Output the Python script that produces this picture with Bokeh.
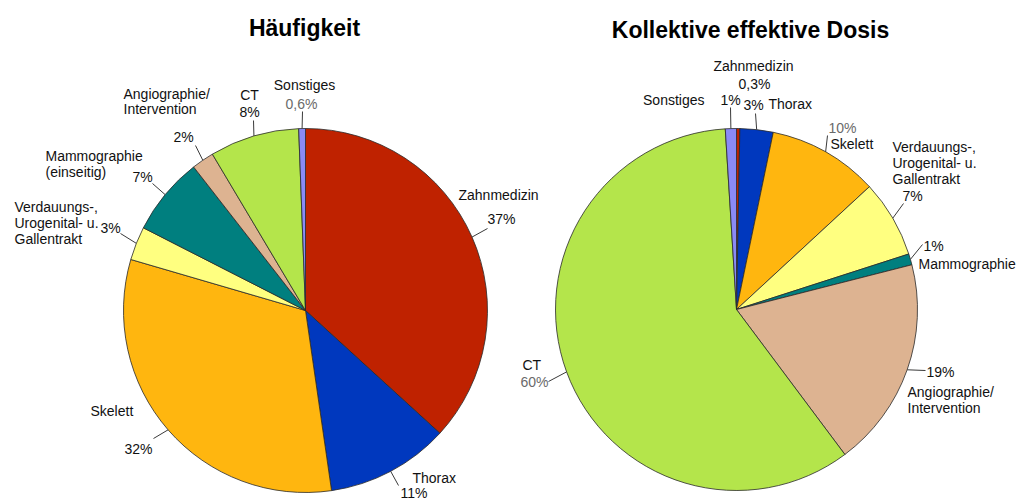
import math
from bokeh.plotting import figure
from bokeh.models import Range1d, ColumnDataSource
from bokeh.core.properties import value
from bokeh.embed import file_html
from bokeh.resources import INLINE

# ---------------- data ----------------
categories = ["Zahnmedizin", "Thorax", "Skelett",
              "Verdauungs-, Urogenital- u. Gallentrakt", "Mammographie",
              "Angiographie/Intervention", "CT", "Sonstiges"]
freq_values = [37, 11, 32, 3, 7, 2, 8, 0.6]
freq_pct_text = ["37%", "11%", "32%", "3%", "7%", "2%", "8%", "0,6%"]
dose_values = [0.3, 3, 10, 7, 1, 19, 60, 1]
dose_pct_text = ["0,3%", "3%", "10%", "7%", "1%", "19%", "60%", "1%"]
slice_colors = ["#BF2200", "#0038BE", "#FFB60F", "#FFFF80",
                "#007F7F", "#DDB391", "#B4E54B", "#8A8AF6"]
titles = ["Häufigkeit", "Kollektive effektive Dosis"]

# ---------------- layout ----------------
W, H = 1018, 500
FONT = value("Liberation Sans")


def D(sx, sy):
    """page pixel -> data coordinate"""
    return sx, H - sy


p = figure(width=W, height=H, output_backend="svg", toolbar_location=None,
           x_range=Range1d(0, W), y_range=Range1d(0, H), min_border=0)
p.axis.visible = False
p.grid.visible = False
p.outline_line_color = None
p.background_fill_color = "white"


def draw_pie(values, center, r):
    cx, cy = D(*center)
    total = float(sum(values))
    starts, ends, mids = [], [], []
    cum = 0.0
    for v in values:
        a0 = math.pi / 2 - 2 * math.pi * cum / total
        cum += v
        a1 = math.pi / 2 - 2 * math.pi * cum / total
        starts.append(a1)
        ends.append(a0)
        mids.append((a0 + a1) / 2)
    src = ColumnDataSource(dict(start=starts, end=ends, color=slice_colors))
    p.wedge(x=cx, y=cy, radius=r, start_angle="start", end_angle="end",
            direction="anticlock", fill_color="color", line_color="#2a2a2a",
            line_width=0.8, source=src)
    return cx, cy, mids


def draw_labels(center_data, r, mids, layout):
    cx, cy = center_data
    xs, ys, txt, align, col = [], [], [], [], []
    x0, y0, x1, y1 = [], [], [], []
    for i, item in enumerate(layout):
        for (t, sx, sy, al, c) in item["texts"]:
            dx, dy = D(sx, sy)
            xs.append(dx); ys.append(dy); txt.append(t); align.append(al); col.append(c)
        if item.get("leader"):
            ex, ey = D(*item["leader"])
            a = mids[i] + item.get("shift", 0.0)
            x0.append(cx + r * math.cos(a)); y0.append(cy + r * math.sin(a))
            x1.append(ex); y1.append(ey)
    p.segment(x0=x0, y0=y0, x1=x1, y1=y1, line_color="#3a3a3a", line_width=1)
    src = ColumnDataSource(dict(x=xs, y=ys, text=txt, align=align, color=col))
    p.text(x="x", y="y", text="text", text_align="align", text_baseline="middle",
           text_color="color", text_font=FONT, text_font_size="14px", source=src)


BLK = "#111111"
GRY = "#6a6a6a"

# ----- left pie -----
L_CENTER, L_R = (305, 310), 182
lc = draw_pie(freq_values, L_CENTER, L_R)
left_layout = [
    dict(texts=[("Zahnmedizin", 458, 194, "left", BLK), (freq_pct_text[0], 487, 218, "left", BLK)], leader=(487, 228)),
    dict(texts=[("Thorax", 412, 477, "left", BLK), (freq_pct_text[1], 400, 492, "left", BLK)], leader=(398, 485)),
    dict(texts=[("Skelett", 90, 410, "left", BLK), (freq_pct_text[2], 124, 448, "left", BLK)], leader=(153, 438)),
    dict(texts=[("Verdauungs-,", 14, 206, "left", BLK), ("Urogenital- u.", 14, 222, "left", BLK),
                ("Gallentrakt", 14, 238, "left", BLK), (freq_pct_text[3], 100, 227, "left", BLK)], leader=(120, 233)),
    dict(texts=[("Mammographie", 45, 155, "left", BLK), ("(einseitig)", 45, 171, "left", BLK),
                (freq_pct_text[4], 132, 176, "left", BLK)], leader=(152, 183)),
    dict(texts=[("Angiographie/", 123, 93, "left", BLK), ("Intervention", 123, 108, "left", BLK),
                (freq_pct_text[5], 173, 136, "left", BLK)], leader=(195, 145)),
    dict(texts=[("CT", 249, 94, "center", BLK), (freq_pct_text[6], 249, 111, "center", BLK)], leader=(253, 120)),
    dict(texts=[("Sonstiges", 304, 84, "center", BLK), (freq_pct_text[7], 301, 103, "center", GRY)], leader=(302, 111)),
]
draw_labels(lc[:2], L_R, lc[2], left_layout)

# ----- right pie -----
R_CENTER, R_R = (736, 309), 181
rc = draw_pie(dose_values, R_CENTER, R_R)
right_layout = [
    dict(texts=[("Zahnmedizin", 753, 65, "center", BLK), (dose_pct_text[0], 754, 83, "center", BLK)]),
    dict(texts=[(dose_pct_text[1], 743, 104, "left", BLK), ("Thorax", 768, 103, "left", BLK)], leader=(755, 113)),
    dict(texts=[(dose_pct_text[2], 828, 127, "left", GRY), ("Skelett", 830, 143, "left", BLK)], leader=(827, 135)),
    dict(texts=[("Verdauungs-,", 892, 146, "left", BLK), ("Urogenital- u.", 892, 162, "left", BLK),
                ("Gallentrakt", 892, 178, "left", BLK), (dose_pct_text[3], 902, 195, "left", BLK)], leader=(903, 203)),
    dict(texts=[(dose_pct_text[4], 923, 245, "left", BLK), ("Mammographie", 918, 263, "left", BLK)], leader=(922, 244)),
    dict(texts=[(dose_pct_text[5], 926, 371, "left", BLK), ("Angiographie/", 907, 391, "left", BLK),
                ("Intervention", 907, 407, "left", BLK)], leader=(925, 370)),
    dict(texts=[("CT", 522, 364, "left", BLK), (dose_pct_text[6], 520, 381, "left", GRY)], leader=(548, 381)),
    dict(texts=[("Sonstiges", 704, 99, "right", BLK), (dose_pct_text[7], 720, 99, "left", BLK)], leader=(730, 107)),
]
draw_labels(rc[:2], R_R, rc[2], right_layout)

# ----- titles -----
tx, ty = zip(D(304, 27), D(750, 29))
p.text(x=list(tx), y=list(ty), text=titles, text_align="center", text_baseline="middle",
       text_font=FONT, text_font_style="bold", text_font_size="23px", text_color="#000000")

open("out.html", "w").write(file_html(p, INLINE))
